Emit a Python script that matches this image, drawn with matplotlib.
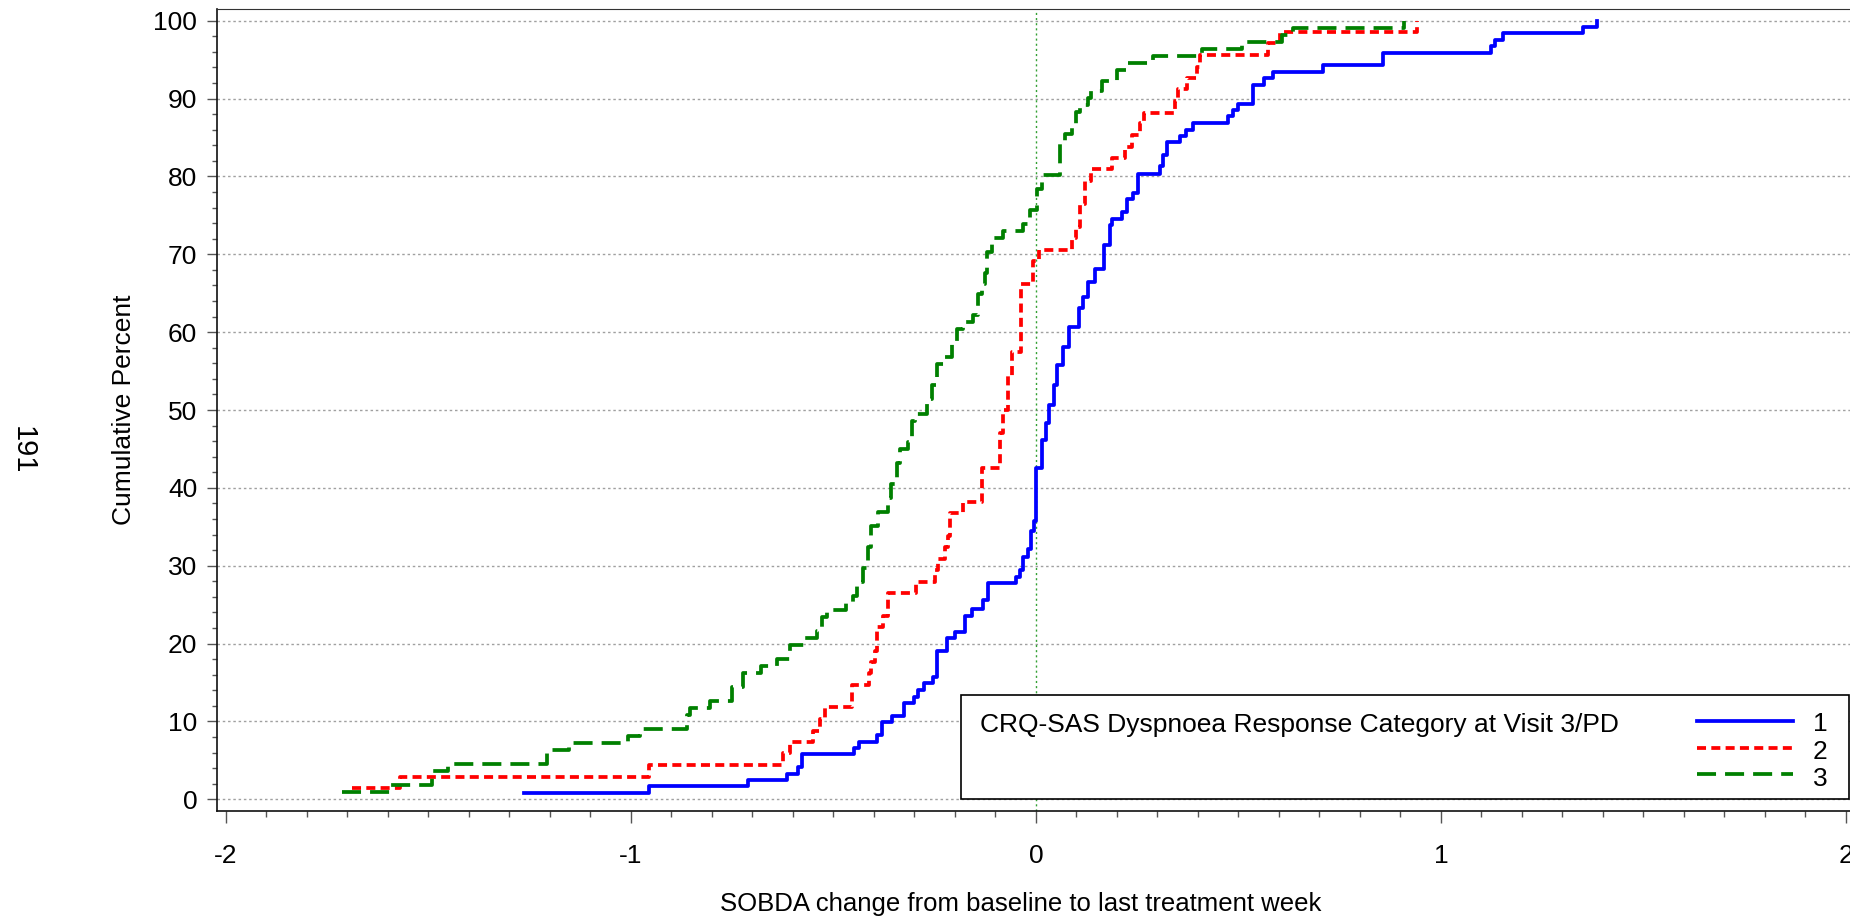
import numpy as np
import matplotlib.pyplot as plt
from matplotlib.ticker import MultipleLocator
from matplotlib.patches import Rectangle

plt.rcParams['font.family'] = ['Liberation Sans', 'DejaVu Sans']
plt.rcParams['axes.unicode_minus'] = False
plt.rcParams['lines.scale_dashes'] = False

# cumulative percent curves, one per response category (step positions)
x1 = [-1.264, -0.955, -0.712, -0.615, -0.587, -0.577, -0.449, -0.437, -0.393, -0.381,
      -0.356, -0.326, -0.302, -0.290, -0.277, -0.254, -0.245, -0.220, -0.200, -0.175,
      -0.157, -0.130, -0.118, -0.050, -0.040, -0.032, -0.019, -0.012, -0.004, 0.000,
      0.016, 0.024, 0.033, 0.044, 0.051, 0.067, 0.082, 0.107, 0.117, 0.129,
      0.146, 0.168, 0.183, 0.188, 0.212, 0.224, 0.239, 0.252, 0.306, 0.313,
      0.323, 0.356, 0.370, 0.388, 0.475, 0.487, 0.500, 0.537, 0.563, 0.586,
      0.709, 0.857, 1.123, 1.133, 1.152, 1.351, 1.386]
y1 = [0.8, 1.7, 2.5, 3.3, 4.2, 5.8, 6.6, 7.4, 8.3, 9.9,
      10.7, 12.4, 13.2, 14.0, 14.9, 15.7, 19.0, 20.7, 21.5, 23.6,
      24.5, 25.6, 27.8, 28.5, 29.5, 31.1, 32.2, 34.4, 35.8, 42.6,
      46.2, 48.3, 50.7, 53.2, 55.8, 58.1, 60.6, 63.1, 64.5, 66.4,
      68.1, 71.2, 73.8, 74.5, 75.4, 77.1, 77.9, 80.3, 81.3, 82.8,
      84.4, 85.2, 86.0, 86.9, 87.7, 88.5, 89.3, 91.8, 92.6, 93.4,
      94.3, 95.9, 96.7, 97.5, 98.4, 99.2, 100]

x2 = [-1.689, -1.570, -0.955, -0.624, -0.607, -0.550, -0.533, -0.521, -0.455, -0.412,
      -0.408, -0.398, -0.393, -0.377, -0.365, -0.297, -0.249, -0.241, -0.225, -0.216,
      -0.212, -0.179, -0.134, -0.132, -0.089, -0.081, -0.068, -0.060, -0.037, -0.007,
      0.008, 0.088, 0.100, 0.108, 0.121, 0.137, 0.187, 0.220, 0.236, 0.258,
      0.267, 0.343, 0.351, 0.372, 0.397, 0.405, 0.574, 0.602, 0.940]
y2 = [1.5, 2.9, 4.4, 5.9, 7.4, 8.8, 10.3, 11.8, 14.7, 16.2,
      17.6, 19.1, 22.1, 23.5, 26.5, 27.9, 29.4, 30.9, 32.4, 33.8,
      36.8, 38.2, 39.7, 42.6, 47.1, 50.0, 54.4, 57.4, 66.2, 69.1,
      70.6, 72.1, 73.5, 76.5, 79.4, 80.9, 82.4, 83.8, 85.3, 86.8,
      88.2, 89.7, 91.2, 92.6, 94.1, 95.6, 97.1, 98.5, 100]

x3 = [-1.714, -1.595, -1.492, -1.452, -1.208, -1.152, -1.007, -0.978, -0.862, -0.855,
      -0.805, -0.751, -0.723, -0.680, -0.640, -0.607, -0.570, -0.541, -0.529, -0.517,
      -0.470, -0.451, -0.443, -0.426, -0.414, -0.406, -0.389, -0.365, -0.357, -0.344,
      -0.336, -0.315, -0.307, -0.299, -0.270, -0.257, -0.245, -0.228, -0.208, -0.196,
      -0.179, -0.155, -0.142, -0.134, -0.126, -0.120, -0.109, -0.081, -0.031, -0.015,
      0.002, 0.014, 0.059, 0.072, 0.088, 0.100, 0.109, 0.129, 0.137, 0.162,
      0.199, 0.224, 0.290, 0.409, 0.508, 0.607, 0.635, 0.909]
y3 = [0.9, 1.8, 3.6, 4.5, 6.3, 7.2, 8.1, 9.0, 10.8, 11.7,
      12.6, 14.4, 16.2, 17.1, 18.0, 19.8, 20.7, 21.6, 23.4, 24.3,
      25.2, 26.1, 27.9, 29.7, 32.4, 35.1, 36.9, 38.7, 40.5, 43.2,
      45.0, 45.9, 48.6, 49.5, 51.4, 53.2, 55.9, 56.8, 58.6, 60.4,
      61.3, 62.2, 64.9, 66.2, 67.6, 70.3, 72.1, 73.0, 73.9, 75.7,
      78.4, 80.2, 84.2, 85.5, 86.5, 88.3, 89.2, 90.1, 91.0, 92.3,
      93.7, 94.6, 95.5, 96.4, 97.3, 98.2, 99.1, 100]

categories = ['1', '2', '3']
colors = ['#0000ff', '#ff0000', '#008000']
styles = [None, (6.5, 3.8), (13.7, 6.5)]

fig = plt.figure(figsize=(18.5, 9.19), dpi=100)
ax = fig.add_axes([0.1173, 0.1175, 0.8827, 0.8727])

for xs, ys, c, d in zip([x1, x2, x3], [y1, y2, y3], colors, styles):
    line, = ax.plot(xs, ys, drawstyle='steps-post', color=c, lw=2.7, zorder=3)
    if d is not None:
        line.set_dashes(d)

ax.set_xlim(-2.022, 2.010)
ax.set_ylim(-1.5, 101.5)

ax.xaxis.set_major_locator(MultipleLocator(1))
ax.xaxis.set_minor_locator(MultipleLocator(0.1))
ax.yaxis.set_major_locator(MultipleLocator(10))
ax.yaxis.set_minor_locator(MultipleLocator(2))

ax.yaxis.grid(True, which='major', color='#a0a0a0', lw=1.0, linestyle=(0, (1.8, 2.0)))
ax.set_axisbelow(True)
ax.axvline(0, color='#33a033', lw=1.0, linestyle=(0, (1.5, 2.2)), zorder=1)

ax.spines['right'].set_visible(False)
ax.spines['top'].set_color('#333333')
for s in ['left', 'bottom']:
    ax.spines[s].set_color('#111111')
    ax.spines[s].set_linewidth(1.2)

ax.tick_params(axis='y', which='major', length=7.2, width=1.0, color='#555555', pad=7, labelsize=19)
ax.tick_params(axis='y', which='minor', length=3.6, width=1.0, color='#555555')
ax.tick_params(axis='x', which='major', length=8.5, width=1.0, color='#555555', pad=15, labelsize=19)
ax.tick_params(axis='x', which='minor', length=4.3, width=1.0, color='#555555')

ax.set_xlabel('SOBDA change from baseline to last treatment week', fontsize=18.5)
ax.set_ylabel('Cumulative Percent', fontsize=19)
ax.xaxis.set_label_coords(0.492, -0.116)
ax.yaxis.set_label_coords(-0.057, 0.5)
ax.xaxis.label.set_va('center')
ax.yaxis.label.set_va('center')

# legend drawn as an inset box in the lower right
ax.add_patch(Rectangle((0.4556, 0.015), 0.5438, 0.1296, transform=ax.transAxes,
                       facecolor='white', edgecolor='black', lw=1.2, zorder=4, clip_on=False))
ax.text(0.467, 0.107, 'CRQ-SAS Dyspnoea Response Category at Visit 3/PD', transform=ax.transAxes,
        fontsize=19, ha='left', va='center', zorder=5)
line_y = [0.1122, 0.0786, 0.0461]
label_y = [0.1085, 0.0736, 0.0399]
for cat, c, d, ly, ty in zip(categories, colors, styles, line_y, label_y):
    sample, = ax.plot([0.9063, 0.9651], [ly, ly], transform=ax.transAxes, color=c, lw=2.7,
                      zorder=5, clip_on=False)
    if d is not None:
        sample.set_dashes(d)
    ax.text(0.9773, ty, cat, transform=ax.transAxes, fontsize=19, ha='left', va='center', zorder=5)

fig.text(23 / 1850, 1 - 450 / 919, '191', rotation=-90, fontsize=21, ha='center', va='center')

fig.savefig('out.png', dpi=100)
